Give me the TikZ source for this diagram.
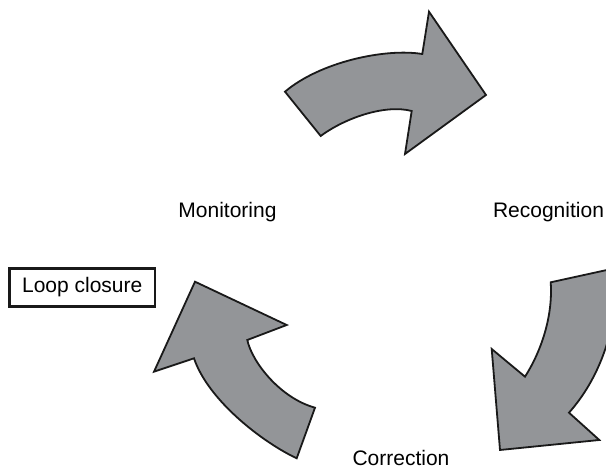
\documentclass[tikz,border=0pt]{standalone}
\usepackage{fontspec}
\setmainfont{Liberation Sans}
\begin{document}
\definecolor{arrowgray}{RGB}{147,149,152}
\begin{tikzpicture}[x=0.5pt,y=-0.5pt,
  bentarrow/.style={fill=arrowgray,draw=black!90,line width=0.9pt,line join=miter},
  stage/.style={font=\fontsize{10.5}{12}\selectfont,anchor=base,inner sep=0pt},
  boxed/.style={draw=black!90,line width=1.3pt,font=\fontsize{10.5}{12}\selectfont,
    minimum width=72.8pt,minimum height=19.2pt,inner sep=0pt}]
\useasboundingbox (0,0) rectangle (606,469);
\begin{scope}
\clip (0,0) rectangle (606,469);
% upper arrow: Monitoring -> Recognition
\draw[bentarrow] (285,91.7) -- (320.7,136)
  .. controls (345,118) and (385,104) .. (411.7,111)
  -- (405,154) -- (486,95) -- (429,11.7) -- (422.3,54)
  .. controls (385,48) and (320,62) .. (285,91.7) -- cycle;
% right arrow: Recognition -> Correction
\draw[bentarrow] (550.7,282.3) -- (616,268)
  .. controls (619,330) and (598,380) .. (569,412.7)
  -- (599.3,440) -- (500,450) -- (491.7,349) -- (525,376.7)
  .. controls (542,350) and (553,315) .. (550.7,282.3) -- cycle;
% left arrow: Correction -> Monitoring
\draw[bentarrow] (195,281.7) -- (286.7,325) -- (247.3,340)
  .. controls (252,362) and (280,398) .. (315,407.7)
  -- (296.7,458.3)
  .. controls (262,442) and (208,400) .. (194,358.3)
  -- (154,371.7) -- cycle;
\end{scope}
\node[stage] (mon) at (227.5,218) {Monitoring};
\node[stage] (rec) at (548.5,218) {Recognition};
\node[stage] (cor) at (401,466) {Correction};
\node[boxed] (loop) at (82.2,287.5) {Loop closure};
\end{tikzpicture}
\end{document}
